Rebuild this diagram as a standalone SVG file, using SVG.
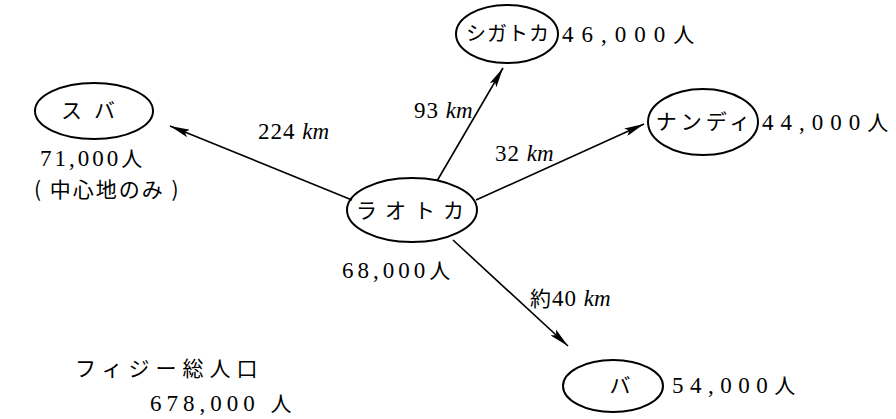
<svg xmlns="http://www.w3.org/2000/svg" width="896" height="419" viewBox="0 0 896 419">
<style>
.n{fill:none;stroke:#000;stroke-width:2}
.jp{font-family:"Noto Sans CJK JP","Liberation Serif",serif;font-size:21px;fill:#000}
.num{font-family:"Liberation Serif","Noto Sans CJK JP",serif;font-size:23px;fill:#000}
.km{font-style:italic;letter-spacing:0}
.c{stroke:#000;stroke-width:1.6;fill:none}
</style>
<defs>
<marker id="ah" viewBox="0 0 20 8" refX="20" refY="4" markerWidth="20" markerHeight="8" markerUnits="userSpaceOnUse" orient="auto">
<path d="M0,0 L20,4 L0,8 L4,4 Z" fill="#000"/>
</marker>
</defs>
<rect width="896" height="419" fill="#fff"/>
<g id="connectors">
<line class="c" x1="352" y1="200" x2="170" y2="126" marker-end="url(#ah)"/>
<line class="c" x1="437" y1="181" x2="503" y2="68" marker-end="url(#ah)"/>
<line class="c" x1="476" y1="200" x2="644" y2="124" marker-end="url(#ah)"/>
<line class="c" x1="453" y1="240" x2="568" y2="346" marker-end="url(#ah)"/>
<text class="num" x="258" y="139" style="letter-spacing:1px">224 <tspan class="km">km</tspan></text>
<text class="num" x="414" y="118" style="letter-spacing:1px">93 <tspan class="km">km</tspan></text>
<text class="num" x="495" y="161" style="letter-spacing:1px">32 <tspan class="km">km</tspan></text>
<text class="num" x="530" y="306" style="letter-spacing:1px"><tspan class="jp">約</tspan>40 <tspan class="km">km</tspan></text>
</g>
<g id="suba">
<ellipse class="n" cx="94" cy="111" rx="59" ry="28"/>
<text class="jp" x="94" y="118" text-anchor="middle" letter-spacing="12">スバ</text>
<text class="num" x="40" y="166" style="letter-spacing:3px">71,000<tspan class="jp">人</tspan></text>
<text class="jp" x="34" y="197" letter-spacing="2">( 中心地のみ )</text>
</g>
<g id="sigatoka">
<ellipse class="n" cx="507" cy="34" rx="51" ry="29"/>
<text class="jp" x="508" y="41" text-anchor="middle" style="font-size:20px" letter-spacing="1">シガトカ</text>
<text class="num" x="562" y="42" style="letter-spacing:8px">46,000<tspan class="jp">人</tspan></text>
</g>
<g id="nandi">
<ellipse class="n" cx="703" cy="122" rx="55" ry="33"/>
<text class="jp" x="705" y="129" text-anchor="middle" letter-spacing="4">ナンディ</text>
<text class="num" x="762" y="130" style="letter-spacing:7px">44,000<tspan class="jp">人</tspan></text>
</g>
<g id="latoka">
<ellipse class="n" cx="412" cy="210" rx="65" ry="32"/>
<text class="jp" x="414" y="218" text-anchor="middle" letter-spacing="8">ラオトカ</text>
<text class="num" x="342" y="278" style="letter-spacing:4px">68,000<tspan class="jp">人</tspan></text>
</g>
<g id="ba">
<ellipse class="n" cx="613" cy="386" rx="50" ry="26"/>
<text class="jp" x="620" y="393" text-anchor="middle">バ</text>
<text class="num" x="672" y="393" style="letter-spacing:6.5px">54,000<tspan class="jp">人</tspan></text>
</g>
<g id="total">
<text class="jp" x="75" y="376" letter-spacing="6">フィジー総人口</text>
<text class="num" x="150" y="411" style="letter-spacing:5px">678,000 <tspan class="jp">人</tspan></text>
</g>
</svg>
